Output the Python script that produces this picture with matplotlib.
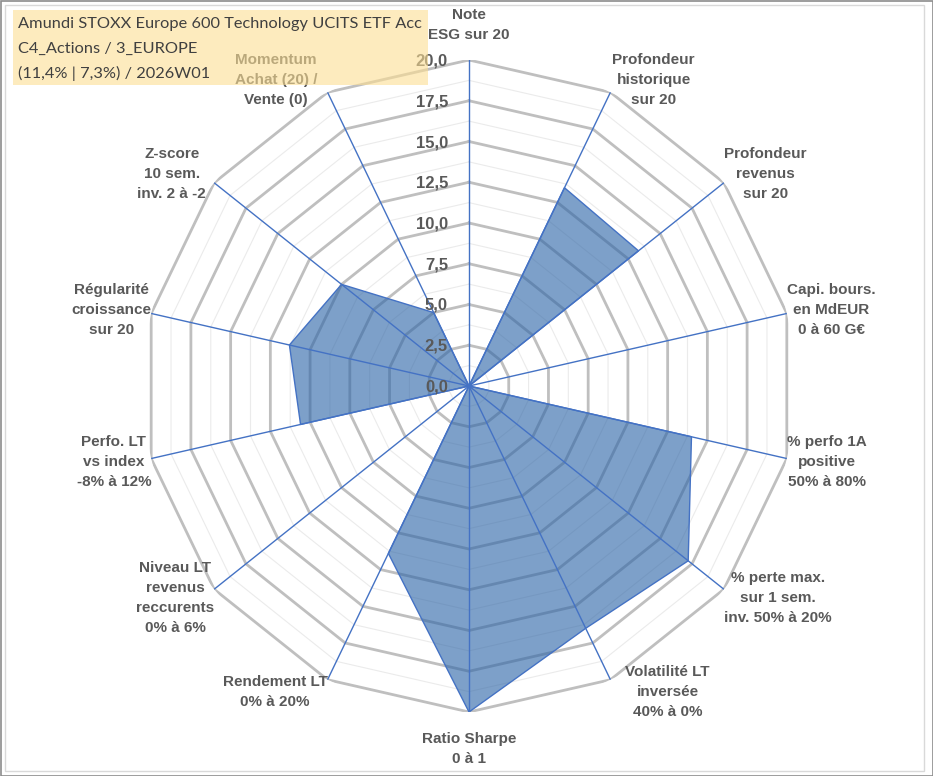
import numpy as np
import matplotlib
matplotlib.use("Agg")
import matplotlib.pyplot as plt
from matplotlib.patches import Rectangle

# ---------------- data ----------------
categories = [
    "Note\nESG sur 20",
    "Profondeur\nhistorique\nsur 20",
    "Profondeur\nrevenus\nsur 20",
    "Capi. bours.\nen MdEUR\n0 à 60 G€",
    "% perfo 1A\npositive\n50% à 80%",
    "% perte max.\nsur 1 sem.\ninv. 50% à 20%",
    "Volatilité LT\ninversée\n40% à 0%",
    "Ratio Sharpe\n0 à 1",
    "Rendement LT\n0% à 20%",
    "Niveau LT\nrevenus\nreccurents\n0% à 6%",
    "Perfo. LT\nvs index\n-8% à 12%",
    "Régularité\ncroissance\nsur 20",
    "Z-score\n10 sem.\ninv. 2 à -2",
    "Momentum\nAchat (20) /\nVente (0)",
]
values = [0.0, 13.5, 13.3, 0.0, 14.0, 17.2, 16.5, 20.0, 11.4, 0.0, 10.6, 11.3, 10.0, 5.0]
major_ticks = [0.0, 2.5, 5.0, 7.5, 10.0, 12.5, 15.0, 17.5, 20.0]
minor_ticks = [1.25, 3.75, 6.25, 8.75, 11.25, 13.75, 16.25, 18.75]
title_lines = [
    "Amundi STOXX Europe 600 Technology UCITS ETF Acc",
    "C4_Actions / 3_EUROPE",
    "(11,4% | 7,3%) / 2026W01",
]
r_max = 20.0

# ---------------- style ----------------
W, H = 933, 776
DPI = 100
TXT = "#595959"
GRID_MAJOR = "#BFBFBF"
GRID_MINOR = "#EBEBEB"
BLUE = "#4472C4"
FILL = "#2E66A8"
label_nudge_x = {6: 15, 12: -8, 13: -10, 1: 2}

fig = plt.figure(figsize=(W / DPI, H / DPI), dpi=DPI)
fig.patch.set_facecolor("white")

cx, cy, R = 469.0, 386.0, 326.0
ax = fig.add_axes([(cx - R) / W, 1 - (cy + R) / H, 2 * R / W, 2 * R / H], projection="polar")
ax.set_theta_offset(np.pi / 2)
ax.set_theta_direction(-1)
ax.set_ylim(0, r_max)
ax.set_axis_off()

n = len(categories)
theta = np.arange(n) * 2 * np.pi / n
theta_closed = np.append(theta, theta[0])

# grid polygons
for v in minor_ticks:
    ax.plot(theta_closed, [v] * (n + 1), color=GRID_MINOR, lw=0.8, zorder=1)
for v in major_ticks[1:]:
    ax.plot(theta_closed, [v] * (n + 1), color=GRID_MAJOR, lw=2.0, zorder=1.2,
            solid_joinstyle="miter")

# data polygon
vals_closed = np.append(values, values[0])
ax.fill(theta_closed, vals_closed, facecolor=FILL, alpha=0.62, zorder=2, lw=0)
ax.plot(theta_closed, vals_closed, color=BLUE, lw=1.0, zorder=3)

# spokes
for t in theta:
    ax.plot([t, t], [0, r_max], color=BLUE, lw=1.0, zorder=3.5)

# radial tick labels
for v in major_ticks:
    ax.annotate(f"{v:.1f}".replace(".", ","), xy=(0, v), xytext=(-21, -1),
                textcoords="offset pixels", ha="right", va="center",
                fontsize=12, fontweight="bold", color=TXT,
                family="Liberation Sans", zorder=5)

# category labels
for i, (t, lab) in enumerate(zip(theta, categories)):
    a = np.pi / 2 - t  # math angle
    c, s = np.cos(a), np.sin(a)
    if abs(c) < 0.1:
        ha = "center"
        if s > 0:
            va, dx, dy = "bottom", 0, 18
        else:
            va, dx, dy = "top", 0, -20
    else:
        ha = "left" if c > 0 else "right"
        va = "center"
        dx = label_nudge_x.get(i, 0)
        dy = 14 * s
    ax.annotate(lab, xy=(t, r_max), xytext=(dx, dy), textcoords="offset pixels",
                ha=ha, va=va, multialignment="center", fontsize=11,
                fontweight="bold", color=TXT, family="Liberation Sans",
                linespacing=1.55, zorder=5, annotation_clip=False)

# title box (semi-transparent, on top)
fig.patches.append(Rectangle((13 / W, 1 - 85 / H), (428 - 13) / W, (85 - 10) / H,
                             transform=fig.transFigure, facecolor="#FCDE93",
                             alpha=0.6, edgecolor="none", zorder=10))
for k, line in enumerate(title_lines):
    fig.text(18 / W, 1 - (24 + k * 24.5) / H, line, ha="left", va="center",
             fontsize=11.8, family="Lato", color="#404040", zorder=11)

# frames
fig.patches.append(Rectangle((0.5 / W, 0.5 / H), (W - 1) / W, (H - 1) / H,
                             transform=fig.transFigure, fill=False,
                             edgecolor="#8C8C8C", lw=1.2, zorder=12))
fig.patches.append(Rectangle((4.5 / W, 1 - 771 / H), (924 - 4.5) / W, (771 - 4.5) / H,
                             transform=fig.transFigure, fill=False,
                             edgecolor="#D9D9D9", lw=1.0, zorder=12))

fig.savefig("out.png", dpi=DPI)
